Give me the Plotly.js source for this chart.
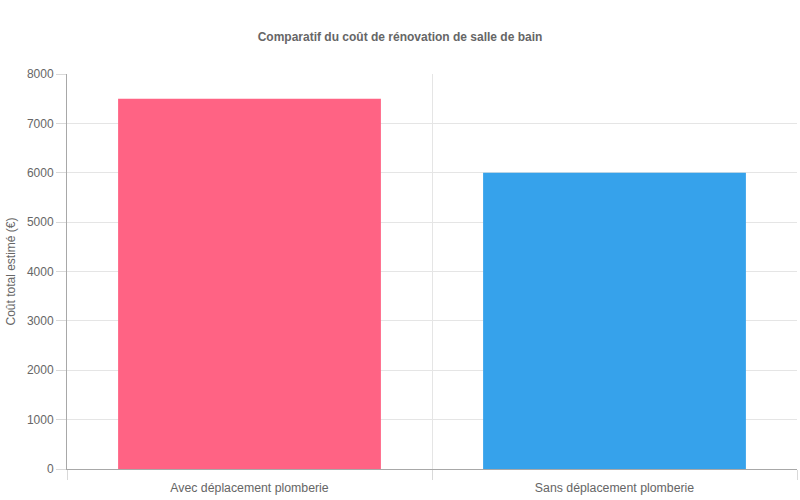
<!DOCTYPE html>
<html>
<head>
<meta charset="utf-8">
<script src="https://cdn.plot.ly/plotly-3.0.1.min.js"></script>
<style>
  body { margin: 0; }
  #chart { width: 800px; height: 500px; }
</style>
</head>
<body>
<div id="chart"></div>
<script>
var categories = ['Avec déplacement plomberie', 'Sans déplacement plomberie'];
var costs = [7500, 6000];
var barColors = ['#ff6384', '#36a2eb'];

var layout = {
  width: 800,
  height: 500,
  paper_bgcolor: '#ffffff',
  plot_bgcolor: '#ffffff',
  font: { family: 'Liberation Sans, Arial, sans-serif', size: 12, color: '#666666' },
  title: {
    text: '<b>Comparatif du coût de rénovation de salle de bain</b>',
    font: { size: 12, color: '#666666' },
    x: 0.5,
    xanchor: 'center',
    y: 0.926,
    yanchor: 'middle'
  },
  margin: { l: 67, r: 3, t: 74, b: 31, pad: 0 },
  bargap: 0.28,
  showlegend: false,
  xaxis: {
    type: 'category',
    range: [-0.5, 1.5],
    tickson: 'boundaries',
    ticks: 'outside',
    ticklen: 10,
    tickcolor: '#d9d9d9',
    ticklabelstandoff: 7,
    showgrid: true,
    gridcolor: '#e5e5e5',
    showline: true,
    linecolor: '#a8a8a8',
    tickfont: { size: 12.3, color: '#666666' },
    fixedrange: true
  },
  yaxis: {
    range: [0, 8000],
    dtick: 1000,
    ticks: 'outside',
    ticklen: 10,
    tickcolor: '#d9d9d9',
    showgrid: true,
    gridcolor: '#e5e5e5',
    zeroline: false,
    showline: true,
    linecolor: '#a8a8a8',
    tickfont: { size: 12, color: '#666666' },
    title: {
      text: 'Coût total estimé (€)',
      font: { size: 12, color: '#666666' },
      standoff: 8
    },
    fixedrange: true
  }
};

Plotly.newPlot('chart', [{
  type: 'bar',
  x: categories,
  y: costs,
  marker: { color: barColors },
  hoverinfo: 'x+y'
}], layout, { displayModeBar: false, staticPlot: true });
</script>
</body>
</html>
